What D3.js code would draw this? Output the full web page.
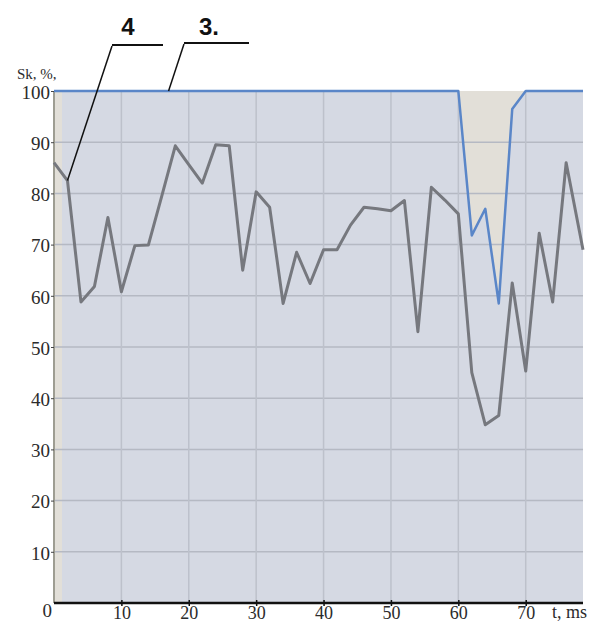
<!DOCTYPE html>
<html>
<head>
<meta charset="utf-8">
<script src="https://cdn.jsdelivr.net/npm/d3@7"></script>
<style>
  body { margin: 0; background: #fff; }
  svg { display: block; }
</style>
</head>
<body>
<svg id="chart" width="605" height="626"></svg>
<script>
// Sample times, ms
const times = [0, 2, 4, 6, 8, 10, 12, 14, 16, 18, 20, 22, 24, 26, 28, 30, 32, 34, 36, 38,
               40, 42, 44, 46, 48, 50, 52, 54, 56, 58, 60, 62, 64, 66, 68, 70, 72, 74, 76, 78.5];

// Curve 4 (grey), Sk %
const curve4 = [86, 82.5, 58.8, 61.8, 75.3, 60.8, 69.8, 69.9, 79.5, 89.3,
                85.6, 82, 89.5, 89.3, 65, 80.3, 77.3, 58.5, 68.5, 62.4,
                69, 69, 73.8, 77.3, 77, 76.6, 78.6, 53, 81.2, 78.7,
                76, 45, 34.8, 36.6, 62.5, 45.3, 72.2, 58.8, 86, 69];

// Curve 3 (blue), Sk %
const curve3 = [100, 100, 100, 100, 100, 100, 100, 100, 100, 100,
                100, 100, 100, 100, 100, 100, 100, 100, 100, 100,
                100, 100, 100, 100, 100, 100, 100, 100, 100, 100,
                100, 71.8, 77, 58.5, 96.5, 100, 100, 100, 100, 100];

const xTicks = [10, 20, 30, 40, 50, 60, 70];
const yTicks = [10, 20, 30, 40, 50, 60, 70, 80, 90, 100];
const tMax = 78.5;
const fillStart = 1.2;   // shaded region under curve 3 begins here, ms

const svg = d3.select("#chart");
const x = d3.scaleLinear().domain([0, tMax]).range([54, 583]);
const y = d3.scaleLinear().domain([0, 100]).range([603, 91]);

const serif = "'Liberation Serif', 'DejaVu Serif', serif";
const pts3 = times.map((t, i) => ({ t, v: curve3[i] }));
const pts4 = times.map((t, i) => ({ t, v: curve4[i] }));

// plot background
svg.append("rect")
  .attr("x", x(0)).attr("y", y(100))
  .attr("width", x(tMax) - x(0)).attr("height", y(0) - y(100))
  .attr("fill", "#e2dfd8");

// area under curve 3
svg.append("clipPath").attr("id", "fillclip")
  .append("rect")
  .attr("x", x(fillStart)).attr("y", y(100))
  .attr("width", x(tMax) - x(fillStart)).attr("height", y(0) - y(100));

svg.append("path")
  .datum(pts3)
  .attr("clip-path", "url(#fillclip)")
  .attr("fill", "#d5d9e3")
  .attr("d", d3.area().x(d => x(d.t)).y0(y(0)).y1(d => y(d.v)));

// grid
svg.append("g").selectAll("line").data(yTicks.filter(v => v < 100)).join("line")
  .attr("x1", x(0)).attr("x2", x(tMax))
  .attr("y1", d => y(d)).attr("y2", d => y(d))
  .attr("stroke", "#b5b9c3").attr("stroke-width", 1.5);

svg.append("g").selectAll("line").data(xTicks).join("line")
  .attr("x1", d => x(d)).attr("x2", d => x(d))
  .attr("y1", y(100)).attr("y2", y(0))
  .attr("stroke", "#bdc1cb").attr("stroke-width", 1.5);

// left axis line
svg.append("line")
  .attr("x1", x(0)).attr("x2", x(0)).attr("y1", y(100)).attr("y2", y(0))
  .attr("stroke", "#9e9d92").attr("stroke-width", 2);

// y axis ticks and labels
const yAxis = svg.append("g")
  .attr("transform", `translate(${x(0)},0)`)
  .call(d3.axisLeft(y).tickValues(yTicks).tickSize(3).tickPadding(1));
yAxis.select(".domain").remove();
yAxis.selectAll("line").attr("stroke", "#444").attr("stroke-width", 1);
yAxis.selectAll("text")
  .attr("font-family", serif).attr("font-size", 19)
  .attr("fill", "#2b2b2b").attr("dy", "0.38em");

// x axis
const xAxis = svg.append("g")
  .attr("transform", `translate(0,${y(0)})`)
  .call(d3.axisBottom(x).tickValues(xTicks).tickSize(3).tickPadding(0));
xAxis.select(".domain").remove();
xAxis.selectAll("line").attr("stroke", "#111").attr("stroke-width", 1.5).attr("y1", -3);
xAxis.selectAll("text")
  .attr("font-family", serif).attr("font-size", 18)
  .attr("fill", "#2b2b2b").attr("y", 16).attr("dy", 0);

svg.append("line")
  .attr("x1", x(0)).attr("x2", x(tMax)).attr("y1", y(0)).attr("y2", y(0))
  .attr("stroke", "#111").attr("stroke-width", 2.5);

svg.append("text")
  .attr("x", x(0) - 2).attr("y", 617)
  .attr("text-anchor", "end")
  .attr("font-family", serif).attr("font-size", 19).attr("fill", "#2b2b2b")
  .text("0");

svg.append("text")
  .attr("x", 552).attr("y", 618)
  .attr("font-family", serif).attr("font-size", 18).attr("fill", "#2b2b2b")
  .text("t, ms");

svg.append("text")
  .attr("x", 17).attr("y", 79)
  .attr("font-family", serif).attr("font-size", 15).attr("fill", "#2b2b2b")
  .text("Sk, %,");

// curves
const line = d3.line().x(d => x(d.t)).y(d => y(d.v));

svg.append("path").datum(pts4)
  .attr("fill", "none").attr("stroke", "#76787e").attr("stroke-width", 3)
  .attr("stroke-linejoin", "round").attr("d", line);

svg.append("path").datum(pts3)
  .attr("fill", "none").attr("stroke", "#5a86c8").attr("stroke-width", 2.5)
  .attr("stroke-linejoin", "round").attr("d", line);

// curve callouts
const labelFont = "'Liberation Sans Narrow', 'Liberation Sans', Arial, sans-serif";
const callouts = [
  { text: "4", lx: 128, shelf: [112, 163], shelfY: 45, target: { t: times[1], v: curve4[1] } },
  { text: "3.", lx: 209, shelf: [184, 249], shelfY: 43, target: { t: 17, v: curve3[8] } }
];

callouts.forEach(c => {
  svg.append("text")
    .attr("x", c.lx).attr("y", 35)
    .attr("text-anchor", "middle")
    .attr("font-family", labelFont).attr("font-weight", "bold")
    .attr("font-size", 24).attr("fill", "#111")
    .text(c.text);
  svg.append("line")
    .attr("x1", c.shelf[0]).attr("x2", c.shelf[1])
    .attr("y1", c.shelfY).attr("y2", c.shelfY)
    .attr("stroke", "#111").attr("stroke-width", 2);
  svg.append("line")
    .attr("x1", c.shelf[0]).attr("y1", c.shelfY + 1)
    .attr("x2", x(c.target.t)).attr("y2", y(c.target.v))
    .attr("stroke", "#111").attr("stroke-width", 1.5);
});
</script>
</body>
</html>
